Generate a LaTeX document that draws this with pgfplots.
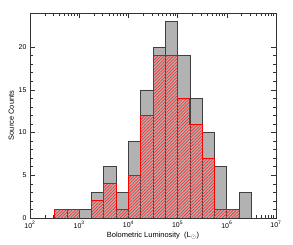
\documentclass[border=0pt]{standalone}
\usepackage{fontspec}
\setmainfont{Liberation Sans}
\usepackage{pgfplots}
\pgfplotsset{compat=1.18}
\usetikzlibrary{patterns.meta}
\begin{document}
\begin{tikzpicture}
\begin{axis}[
  scale only axis, width=246bp, height=205bp,
  xmode=log, xmin=1e2, xmax=1e7, ymin=0, ymax=24,
  xtick={1e2,1e3,1e4,1e5,1e6,1e7},
  xticklabels={10\textsuperscript{2},10\textsuperscript{3},10\textsuperscript{4},10\textsuperscript{5},10\textsuperscript{6},10\textsuperscript{7}},
  ytick={0,5,10,15,20}, minor y tick num=4,
  /pgf/number format/assume math mode=true,
  tick align=inside, xtick pos=both, ytick pos=both,
  major tick length=5bp, minor tick length=3bp,
  axis line style={black!80, line width=0.7pt},
  every tick/.style={black!80, line width=0.6pt},
  tick label style={font=\fontsize{7}{8}\selectfont},
  label style={font=\fontsize{7.5}{8}\selectfont},
  xlabel={Bolometric Luminosity\ \ (L$_\odot$)},
  ylabel={Source Counts},
  xlabel style={yshift=3bp},
  ylabel style={yshift=-2bp},
]
\addplot[ybar interval, fill=black!30, draw=black!75, line width=0.7pt] coordinates {
(316.23,1) (562.34,1) (1000,1) (1778.28,3) (3162.28,6) (5623.41,3) (10000,9)
(17782.8,15) (31622.8,20) (56234.1,23) (100000,19) (177828,14) (316228,10)
(562341,6) (1000000,1) (1778280,3) (3162280,0)
};
\addplot[const plot, draw=red, line width=0.9pt,
  pattern={Lines[angle=45,distance=2.2pt,line width=0.75pt]}, pattern color=red!80!white] coordinates {
(237.14,0) (316.23,1) (562.34,1) (1000,0) (1778.28,2) (3162.28,4) (5623.41,1) (10000,5)
(17782.8,12) (31622.8,19) (56234.1,19) (100000,14) (177828,11) (316228,7)
(562341,1) (1000000,1) (1778280,0) (2371374,0)
} \closedcycle;
\end{axis}
\path (current axis.south west) ++(-30bp,-27bp) (current axis.north east) ++(17bp,13bp);
\end{tikzpicture}
\end{document}
